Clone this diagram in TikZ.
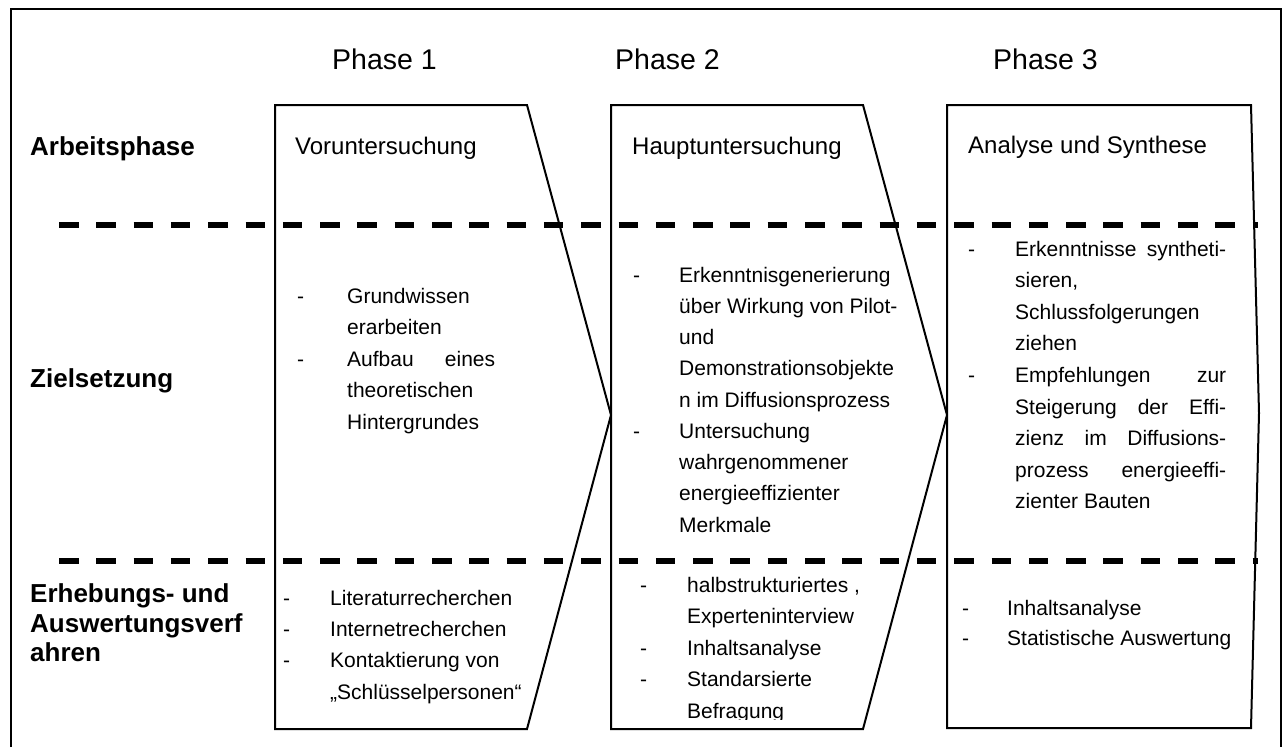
\documentclass[tikz,border=0pt]{standalone}
\usepackage{fontspec}
\setmainfont[Ligatures=CommonOff]{Liberation Sans}
\newcommand\putline[4][]{\node[txt,#1] (#2) at (#3) {#4};}
\begin{document}
\begin{tikzpicture}[x=1pt,y=-1pt,
  shp/.style={draw,line width=2pt,line join=miter},
  sep/.style={line width=6.5pt,dash pattern=on 19.5pt off 17.8pt},
  frame/.style={line width=2.5pt},
  txt/.style={anchor=base west,inner sep=0pt,font=\fontsize{21}{25}\selectfont},
  sub/.style={txt,font=\fontsize{24}{28}\selectfont},
  head/.style={txt,font=\fontsize{28.5}{33}\selectfont},
  lab/.style={txt,font=\bfseries\fontsize{26}{30}\selectfont}]

\useasboundingbox (0,0) rectangle (1284,747);

% outer frame (bottom edge lies outside the picture)
\draw[frame] (11,747) -- (11,9) -- (1281,9) -- (1281,747);

% phase chevrons
\draw[shp] (275,105) -- (527,105) -- (611,415) -- (527,729) -- (275,729) -- cycle;
\draw[shp] (611,105) -- (863,105) -- (947,415) -- (863,729) -- (611,729) -- cycle;
\draw[shp] (947,105) -- (1251,105) -- (1259,413) -- (1251,728) -- (947,728) -- cycle;

% row separators
\draw[sep] (59,225) -- (1258,225);
\draw[sep] (59,561) -- (1258,561);

% headings
\node[head] (ph1) at (332,69) {Phase 1};
\node[head] (ph2) at (615,69) {Phase 2};
\node[head] (ph3) at (993,69) {Phase 3};

% row labels
\node[lab] (la1) at (30,155) {Arbeitsphase};
\node[lab] (la2) at (30,387) {Zielsetzung};
\node[lab] (la3a) at (30,602) {Erhebungs- und};
\node[lab] (la3b) at (30,632) {Auswertungsverf};
\node[lab] (la3c) at (30,661) {ahren};

% work phases
\node[sub] (s1) at (295,154) {Voruntersuchung};
\node[sub] (s2) at (632,154) {Hauptuntersuchung};
\node[sub] (s3) at (968,153) {Analyse und Synthese};

% Zielsetzung, phase 1
\putline{a1d1}{297,303}{-}
\putline{a1t1}{347,303}{Grundwissen}
\putline{a1t2}{347,334.5}{erarbeiten}
\putline{a1d2}{297,366}{-}
\putline{a1t3}{347,366}{\hbox to 148pt{Aufbau\hfill eines}}
\putline{a1t4}{347,397.5}{theoretischen}
\putline{a1t5}{347,429}{Hintergrundes}

% Zielsetzung, phase 2
\putline{a2d1}{633,282}{-}
\putline{a2t1}{679,282}{Erkenntnisgenerierung}
\putline{a2t2}{679,313.25}{über Wirkung von Pilot-}
\putline{a2t3}{679,344.5}{und}
\putline{a2t4}{679,375.75}{Demonstrationsobjekte}
\putline{a2t5}{679,407}{n im Diffusionsprozess}
\putline{a2d2}{633,438.25}{-}
\putline{a2t6}{679,438.25}{Untersuchung}
\putline{a2t7}{679,469.5}{wahrgenommener}
\putline{a2t8}{679,500.75}{energieeffizienter}
\putline{a2t9}{679,532}{Merkmale}

% Zielsetzung, phase 3
\putline{a3d1}{968,256}{-}
\putline{a3t1}{1015,256}{\hbox to 211pt{Erkenntnisse\hfill syntheti-}}
\putline{a3t2}{1015,287.6}{sieren,}
\putline{a3t3}{1015,319.2}{Schlussfolgerungen}
\putline{a3t4}{1015,350.8}{ziehen}
\putline{a3d2}{968,382.4}{-}
\putline{a3t5}{1015,382.4}{\hbox to 211pt{Empfehlungen\hfill zur}}
\putline{a3t6}{1015,414}{\hbox to 211pt{Steigerung\hfill der\hfill Effi-}}
\putline{a3t7}{1015,445.6}{\hbox to 211pt{zienz\hfill im\hfill Diffusions-}}
\putline{a3t8}{1015,477.2}{\hbox to 211pt{prozess\hfill energieeffi-}}
\putline{a3t9}{1015,508.8}{zienter Bauten}

% Erhebungs- und Auswertungsverfahren, phase 1
\putline{b1d1}{283,605}{-}
\putline{b1t1}{330,605}{Literaturrecherchen}
\putline{b1d2}{283,636.3}{-}
\putline{b1t2}{330,636.3}{Internetrecherchen}
\putline{b1d3}{283,667.6}{-}
\putline{b1t3}{330,667.6}{Kontaktierung von}
\putline{b1t4}{330,699}{„Schlüsselpersonen“}

% Erhebungs- und Auswertungsverfahren, phase 2
\putline{b2d1}{640,592}{-}
\putline{b2t1}{687,592}{halbstrukturiertes ,}
\putline{b2t2}{687,623.5}{Experteninterview}
\putline{b2d2}{640,655}{-}
\putline{b2t3}{687,655}{Inhaltsanalyse}
\putline{b2d3}{640,686.5}{-}
\putline{b2t4}{687,686.5}{Standarsierte}
\begin{scope}
\clip (640,700) rectangle (860,719.5);
\putline{b2t5}{687,718}{Befragung}
\end{scope}

% Erhebungs- und Auswertungsverfahren, phase 3
\putline{b3d1}{962,615}{-}
\putline{b3t1}{1007,615}{Inhaltsanalyse}
\putline{b3d2}{962,645}{-}
\putline{b3t2}{1007,645}{Statistische Auswertung}
\end{tikzpicture}
\end{document}
